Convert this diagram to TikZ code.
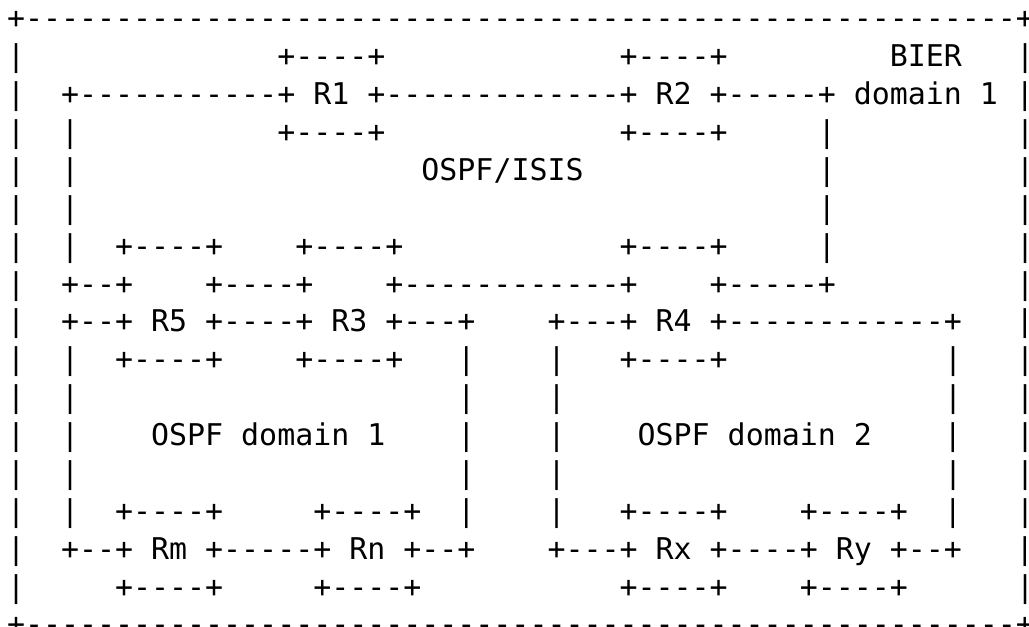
\documentclass[tikz,border=0pt]{standalone}
\usepackage{fontspec}
\setmonofont{DejaVu Sans Mono}
\newlength\charw
\newcommand\sk[1]{\hspace*{#1\charw}}
\tikzset{asciirow/.style={anchor=base west,inner sep=0pt,outer sep=0pt,
  font=\fontsize{29.93pt}{37.875pt}\ttfamily\selectfont\frenchspacing,text=black}}
\begin{document}
\settowidth\charw{\fontsize{29.93pt}{37.875pt}\ttfamily\selectfont M}
\begin{tikzpicture}[x=1pt,y=1pt]
\fill[white] (0,0) rectangle (1029,627);
\useasboundingbox (0,0) rectangle (1029,627);
\node[asciirow] (l1)  at (7,{598-37.875*0})  {+-------------------------------------------------------+};
\node[asciirow] (l2)  at (7,{598-37.875*1})  {|\sk{14}+----+\sk{13}+----+\sk{9}BIER\sk{3}|};
\node[asciirow] (l3)  at (7,{598-37.875*2})  {|\sk{2}+-----------+ R1 +-------------+ R2 +-----+ domain 1 |};
\node[asciirow] (l4)  at (7,{598-37.875*3})  {|\sk{2}|\sk{11}+----+\sk{13}+----+\sk{5}|\sk{10}|};
\node[asciirow] (l5)  at (7,{598-37.875*4})  {|\sk{2}|\sk{19}OSPF/ISIS\sk{13}|\sk{10}|};
\node[asciirow] (l6)  at (7,{598-37.875*5})  {|\sk{2}|\sk{41}|\sk{10}|};
\node[asciirow] (l7)  at (7,{598-37.875*6})  {|\sk{2}|\sk{2}+----+\sk{4}+----+\sk{12}+----+\sk{5}|\sk{10}|};
\node[asciirow] (l8)  at (7,{598-37.875*7})  {|\sk{2}+--+\sk{4}+----+\sk{4}+------------+\sk{4}+-----+\sk{10}|};
\node[asciirow] (l9)  at (7,{598-37.875*8})  {|\sk{2}+--+ R5 +----+ R3 +---+\sk{4}+---+ R4 +------------+\sk{3}|};
\node[asciirow] (l10) at (7,{598-37.875*9})  {|\sk{2}|\sk{2}+----+\sk{4}+----+\sk{3}|\sk{4}|\sk{3}+----+\sk{12}|\sk{3}|};
\node[asciirow] (l11) at (7,{598-37.875*10}) {|\sk{2}|\sk{21}|\sk{4}|\sk{21}|\sk{3}|};
\node[asciirow] (l12) at (7,{598-37.875*11}) {|\sk{2}|\sk{4}OSPF domain 1\sk{4}|\sk{4}|\sk{4}OSPF domain 2\sk{4}|\sk{3}|};
\node[asciirow] (l13) at (7,{598-37.875*12}) {|\sk{2}|\sk{21}|\sk{4}|\sk{21}|\sk{3}|};
\node[asciirow] (l14) at (7,{598-37.875*13}) {|\sk{2}|\sk{2}+----+\sk{5}+----+\sk{2}|\sk{4}|\sk{3}+----+\sk{4}+----+\sk{2}|\sk{3}|};
\node[asciirow] (l15) at (7,{598-37.875*14}) {|\sk{2}+--+ Rm +-----+ Rn +--+\sk{4}+---+ Rx +----+ Ry +--+\sk{3}|};
\node[asciirow] (l16) at (7,{598-37.875*15}) {|\sk{5}+----+\sk{5}+----+\sk{11}+----+\sk{4}+----+\sk{6}|};
\node[asciirow] (l17) at (7,{598-37.875*16}) {+-------------------------------------------------------+};
\end{tikzpicture}
\end{document}
